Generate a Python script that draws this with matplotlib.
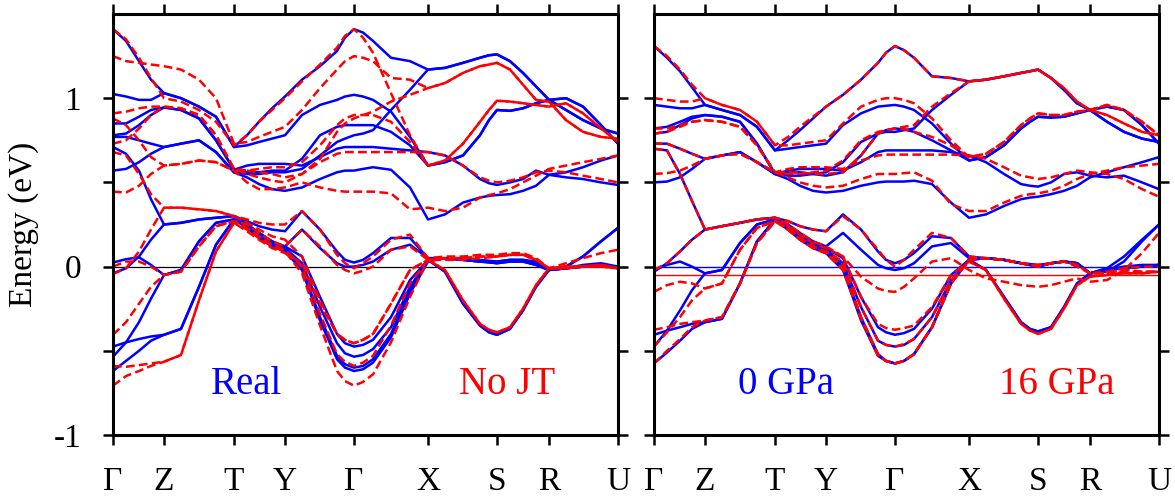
import numpy as np
import matplotlib
matplotlib.use("Agg")
import matplotlib.pyplot as plt

plt.rcParams['font.family'] = 'serif'
plt.rcParams['font.serif'] = ['Liberation Serif', 'DejaVu Serif']

# k-path (same sampling for every band), high-symmetry labels
kpts = [0, 13, 26, 38, 51, 68, 86, 103, 121, 134, 146, 159, 172, 189, 207, 224, 241,
        260, 278, 297, 315, 332, 350, 367, 384, 397, 410, 423, 436, 453, 470, 488, 505]
# a few extra samples around the Gamma extrema and the S dip
kpts_extra = [232, 250, 376]
ktick_pos = [0, 51, 121, 172, 241, 315, 384, 436, 505]
ktick_lab = ['Γ', 'Z', 'T', 'Y', 'Γ', 'X', 'S', 'R', 'U']

# --- left panel : Real (blue) ---
real_bands = [
    [1.41, 1.34, 1.22, 1.11, 1.03, 1.00, 0.95, 0.89, 0.71, 0.78, 0.86, 0.94, 1.01, 1.11, 1.19, 1.28, 1.41,
     1.34, 1.24, 1.22, 1.17, 1.18, 1.21, 1.24, 1.26, 1.22, 1.15, 1.07, 0.99, 0.93, 0.87, 0.82, 0.79],
    [1.025, 1.01, 0.99, 0.99, 1.03, 1.00, 0.95, 0.89, 0.71, 0.72, 0.74, 0.76, 0.78, 0.90, 0.96, 0.99, 1.02,
     0.99, 0.92, 0.77, 0.60, 0.62, 0.66, 0.78, 0.93, 0.925, 0.94, 0.97, 0.99, 1.00, 0.95, 0.84, 0.73],
    [0.85, 0.85, 0.89, 0.93, 0.945, 0.93, 0.88, 0.75, 0.575, 0.60, 0.61, 0.61, 0.61, 0.60, 0.65, 0.70, 0.71,
     0.71, 0.70, 0.69, 0.68, 0.66, 0.60, 0.52, 0.485, 0.50, 0.52, 0.57, 0.545, 0.53, 0.52, 0.50, 0.485],
    [0.78, 0.79, 0.84, 0.90, 0.945, 0.93, 0.88, 0.75, 0.575, 0.56, 0.56, 0.57, 0.57, 0.64, 0.78, 0.83, 0.84,
     0.84, 0.80, 0.72, 0.60, 0.62, 0.66, 0.78, 0.93, 0.925, 0.94, 0.97, 0.99, 1.00, 0.95, 0.84, 0.73],
    [0.77, 0.77, 0.75, 0.73, 0.71, 0.73, 0.75, 0.68, 0.56, 0.55, 0.55, 0.56, 0.56, 0.58, 0.66, 0.74, 0.78,
     0.81, 0.93, 1.05, 1.17, 1.18, 1.21, 1.24, 1.26, 1.22, 1.15, 1.07, 0.99, 0.93, 0.87, 0.82, 0.79],
    [0.57, 0.58, 0.62, 0.67, 0.71, 0.73, 0.75, 0.68, 0.56, 0.53, 0.49, 0.46, 0.45, 0.47, 0.52, 0.56, 0.57,
     0.59, 0.575, 0.47, 0.28, 0.31, 0.38, 0.41, 0.425, 0.43, 0.45, 0.48, 0.545, 0.56, 0.59, 0.63, 0.66],
    [0.71, 0.67, 0.57, 0.40, 0.25, 0.26, 0.28, 0.29, 0.30, 0.27, 0.24, 0.22, 0.21, 0.33, 0.22, 0.09, 0.024,
     0.08, 0.17, 0.17, 0.05, 0.05, 0.04, 0.03, 0.02, 0.03, 0.03, 0.01, -0.02, 0.0, 0.06, 0.15, 0.23],
    [-0.04, -0.01, 0.06, 0.16, 0.25, 0.26, 0.28, 0.29, 0.30, 0.25, 0.20, 0.15, 0.12, 0.22, 0.11, 0.02, 0.0,
     0.03, 0.10, 0.13, 0.05, 0.05, 0.04, 0.03, 0.03, 0.04, 0.04, 0.03, -0.02, -0.01, 0.01, 0.02, 0.0],
    [-0.475, -0.45, -0.43, -0.415, -0.405, -0.37, -0.12, 0.13, 0.28, 0.24, 0.19, 0.14, 0.12, 0.06, -0.18, -0.40, -0.475,
     -0.435, -0.30, -0.08, 0.04, -0.03, -0.22, -0.35, -0.405, -0.37, -0.26, -0.12, -0.02, -0.01, 0.0, 0.0, 0.0],
    [-0.535, -0.45, -0.33, -0.19, -0.05, -0.02, 0.15, 0.26, 0.28, 0.25, 0.20, 0.15, 0.11, 0.02, -0.24, -0.455, -0.535,
     -0.49, -0.36, -0.12, 0.04, -0.03, -0.22, -0.35, -0.405, -0.37, -0.26, -0.12, -0.02, -0.01, 0.0, 0.0, 0.0],
    [-0.62, -0.56, -0.50, -0.44, -0.405, -0.37, -0.12, 0.13, 0.28, 0.23, 0.17, 0.12, 0.09, -0.02, -0.32, -0.55, -0.62,
     -0.57, -0.42, -0.16, 0.03, 0.05, 0.04, 0.03, 0.02, 0.03, 0.03, 0.01, -0.02, -0.01, 0.0, 0.0, 0.0],
    [0.024, 0.044, 0.055, 0.01, -0.05, -0.02, 0.15, 0.26, 0.28, 0.24, 0.18, 0.13, 0.10, -0.01, -0.30, -0.53, -0.60,
     -0.55, -0.40, -0.14, 0.04, 0.05, 0.05, 0.04, 0.03, 0.04, 0.04, 0.02, -0.02, 0.0, 0.06, 0.15, 0.23],
]
real_extra = [
    [1.36, 1.39, 1.255], [1.01, 1.01, 0.87], [0.71, 0.71, 0.495], [0.84, 0.84, 0.87],
    [0.76, 0.79, 1.255], [0.57, 0.58, 0.42], [0.04, 0.04, 0.025], [0.0, 0.01, 0.03],
    [-0.455, -0.465, -0.39], [-0.515, -0.525, -0.39], [-0.60, -0.61, 0.025], [-0.58, -0.59, 0.035],
]

# --- left panel : No JT (red dashed) ---
nojt_bands = [
    [1.41, 1.35, 1.24, 1.12, 1.00, 0.98, 0.93, 0.86, 0.72, 0.78, 0.86, 0.93, 1.00, 1.10, 1.20, 1.30, 1.41,
     1.27, 1.03, 0.78, 0.60, 0.63, 0.73, 0.86, 0.985, 0.98, 0.97, 0.96, 0.95, 0.97, 0.91, 0.82, 0.74],
    [1.25, 1.22, 1.21, 1.20, 1.19, 1.17, 1.11, 1.00, 0.73, 0.74, 0.77, 0.80, 0.83, 0.93, 1.06, 1.17, 1.25,
     1.22, 1.12, 1.11, 1.06, 1.09, 1.15, 1.19, 1.21, 1.17, 1.08, 0.99, 0.98, 0.87, 0.80, 0.77, 0.76],
    [0.91, 0.92, 0.94, 0.95, 0.95, 0.94, 0.90, 0.78, 0.58, 0.57, 0.58, 0.59, 0.59, 0.62, 0.72, 0.84, 0.90,
     0.90, 0.86, 0.74, 0.60, 0.63, 0.73, 0.86, 0.985, 0.98, 0.97, 0.96, 0.95, 0.97, 0.91, 0.82, 0.74],
    [0.88, 0.84, 0.75, 0.65, 0.60, 0.61, 0.63, 0.62, 0.57, 0.57, 0.56, 0.55, 0.53, 0.55, 0.64, 0.80, 0.88,
     0.92, 0.98, 1.02, 1.06, 1.09, 1.15, 1.19, 1.21, 1.17, 1.08, 0.99, 0.98, 0.87, 0.80, 0.77, 0.76],
    [0.73, 0.75, 0.82, 0.90, 0.95, 0.94, 0.90, 0.78, 0.58, 0.55, 0.53, 0.51, 0.50, 0.55, 0.62, 0.67, 0.68,
     0.68, 0.68, 0.68, 0.68, 0.66, 0.60, 0.53, 0.50, 0.51, 0.53, 0.56, 0.57, 0.56, 0.54, 0.52, 0.50],
    [0.68, 0.66, 0.55, 0.43, 0.35, 0.35, 0.34, 0.33, 0.30, 0.28, 0.26, 0.25, 0.25, 0.33, 0.22, 0.07, -0.01,
     0.06, 0.16, 0.19, 0.05, 0.06, 0.06, 0.07, 0.07, 0.08, 0.08, 0.05, -0.01, 0.02, 0.05, 0.08, 0.10],
    [0.445, 0.44, 0.48, 0.55, 0.60, 0.61, 0.63, 0.62, 0.57, 0.50, 0.46, 0.46, 0.47, 0.50, 0.47, 0.45, 0.445,
     0.445, 0.435, 0.34, 0.35, 0.33, 0.35, 0.41, 0.435, 0.46, 0.50, 0.54, 0.58, 0.60, 0.62, 0.64, 0.66],
    [0.0, 0.03, 0.03, 0.0, -0.05, -0.03, 0.12, 0.24, 0.27, 0.25, 0.20, 0.15, 0.12, 0.22, 0.12, 0.01, -0.04,
     0.0, 0.10, 0.12, 0.04, 0.04, 0.04, 0.05, 0.06, 0.07, 0.07, 0.04, -0.01, 0.0, 0.0, 0.01, -0.01],
    [-0.044, -0.01, 0.09, 0.22, 0.35, 0.35, 0.34, 0.33, 0.30, 0.26, 0.22, 0.18, 0.16, 0.06, -0.20, -0.40, -0.455,
     -0.40, -0.22, -0.02, 0.04, -0.02, -0.20, -0.34, -0.39, -0.36, -0.25, -0.11, -0.01, -0.01, 0.0, 0.0, -0.01],
    [-0.405, -0.33, -0.22, -0.12, -0.05, -0.03, 0.12, 0.24, 0.27, 0.23, 0.18, 0.13, 0.10, 0.0, -0.28, -0.52, -0.59,
     -0.53, -0.35, -0.10, 0.04, -0.02, -0.20, -0.34, -0.39, -0.36, -0.25, -0.11, -0.01, -0.01, 0.0, 0.0, -0.01],
    [-0.59, -0.595, -0.585, -0.575, -0.565, -0.525, -0.20, 0.09, 0.26, 0.22, 0.17, 0.12, 0.09, -0.04, -0.35, -0.62, -0.707,
     -0.64, -0.45, -0.18, 0.04, 0.05, 0.05, 0.06, 0.06, 0.07, 0.07, 0.04, -0.01, 0.0, 0.0, 0.01, -0.01],
    [-0.707, -0.65, -0.62, -0.59, -0.565, -0.525, -0.20, 0.09, 0.26, 0.21, 0.16, 0.11, 0.08, 0.02, -0.22, -0.40, -0.455,
     -0.40, -0.22, -0.02, 0.04, 0.05, 0.05, 0.06, 0.06, 0.07, 0.07, 0.04, -0.01, 0.0, 0.0, 0.01, -0.01],
]
nojt_extra = [
    [1.37, 1.36, 0.93], [1.22, 1.24, 1.20], [0.88, 0.90, 0.93], [0.85, 0.90, 1.20],
    [0.68, 0.68, 0.51], [0.02, 0.02, 0.07], [0.445, 0.445, 0.425], [-0.02, -0.025, 0.055],
    [-0.435, -0.435, -0.375], [-0.565, -0.57, -0.375], [-0.68, -0.685, 0.06], [-0.435, -0.435, 0.06],
]

# --- right panel : 0 GPa (blue) ---
gpa0_bands = [
    [1.31, 1.24, 1.16, 1.065, 0.96, 0.93, 0.90, 0.83, 0.69, 0.75, 0.81, 0.88, 0.95, 1.02, 1.11, 1.21, 1.31,
     1.24, 1.13, 1.12, 1.10, 1.11, 1.13, 1.15, 1.17, 1.12, 1.05, 0.97, 0.93, 0.86, 0.80, 0.76, 0.74],
    [0.96, 0.95, 0.94, 0.94, 0.96, 0.93, 0.90, 0.83, 0.69, 0.70, 0.71, 0.72, 0.73, 0.84, 0.91, 0.95, 0.96,
     0.93, 0.85, 0.73, 0.63, 0.65, 0.72, 0.82, 0.89, 0.885, 0.89, 0.91, 0.93, 0.95, 0.93, 0.84, 0.73],
    [0.82, 0.83, 0.86, 0.89, 0.90, 0.89, 0.86, 0.73, 0.55, 0.57, 0.58, 0.58, 0.58, 0.57, 0.62, 0.68, 0.69,
     0.69, 0.69, 0.68, 0.66, 0.62, 0.55, 0.49, 0.475, 0.50, 0.55, 0.56, 0.54, 0.53, 0.54, 0.50, 0.46],
    [0.79, 0.80, 0.84, 0.88, 0.90, 0.89, 0.86, 0.73, 0.55, 0.54, 0.54, 0.55, 0.56, 0.62, 0.74, 0.79, 0.80,
     0.82, 0.93, 1.02, 1.10, 1.11, 1.13, 1.15, 1.17, 1.12, 1.05, 0.97, 0.93, 0.86, 0.80, 0.76, 0.74],
    [0.73, 0.73, 0.70, 0.67, 0.64, 0.66, 0.68, 0.62, 0.55, 0.56, 0.56, 0.55, 0.54, 0.56, 0.66, 0.79, 0.82,
     0.80, 0.75, 0.69, 0.63, 0.65, 0.72, 0.82, 0.89, 0.885, 0.89, 0.91, 0.93, 0.95, 0.93, 0.84, 0.73],
    [0.50, 0.505, 0.53, 0.58, 0.64, 0.66, 0.68, 0.62, 0.55, 0.52, 0.48, 0.45, 0.44, 0.45, 0.48, 0.50, 0.505,
     0.51, 0.49, 0.38, 0.29, 0.31, 0.36, 0.40, 0.415, 0.43, 0.45, 0.48, 0.53, 0.56, 0.59, 0.62, 0.65],
    [0.70, 0.69, 0.55, 0.39, 0.22, 0.24, 0.26, 0.28, 0.29, 0.27, 0.24, 0.22, 0.21, 0.31, 0.22, 0.09, 0.02,
     0.08, 0.18, 0.17, 0.06, 0.05, 0.04, 0.02, 0.01, 0.02, 0.03, 0.02, -0.04, -0.02, 0.0, 0.01, 0.01],
    [-0.03, 0.02, 0.09, 0.16, 0.22, 0.24, 0.26, 0.28, 0.29, 0.25, 0.20, 0.15, 0.12, 0.20, 0.10, 0.01, -0.02,
     0.02, 0.12, 0.14, 0.05, 0.05, 0.04, 0.02, 0.0, 0.02, 0.03, 0.02, -0.04, -0.03, 0.03, 0.15, 0.25],
    [-0.02, 0.01, 0.03, 0.0, -0.04, -0.02, 0.14, 0.25, 0.28, 0.24, 0.19, 0.14, 0.11, 0.05, -0.18, -0.36, -0.405,
     -0.37, -0.25, -0.05, 0.04, -0.02, -0.18, -0.33, -0.385, -0.36, -0.24, -0.10, -0.04, -0.01, -0.01, 0.0, 0.0],
    [-0.475, -0.38, -0.26, -0.14, -0.04, -0.02, 0.14, 0.25, 0.28, 0.23, 0.18, 0.13, 0.10, 0.02, -0.24, -0.44, -0.475,
     -0.43, -0.30, -0.08, 0.04, -0.02, -0.18, -0.33, -0.385, -0.36, -0.24, -0.10, -0.04, -0.01, 0.06, 0.16, 0.25],
    [-0.405, -0.38, -0.36, -0.34, -0.33, -0.31, -0.10, 0.15, 0.28, 0.22, 0.17, 0.12, 0.09, 0.0, -0.30, -0.52, -0.575,
     -0.52, -0.36, -0.10, 0.04, 0.05, 0.04, 0.02, 0.0, 0.02, 0.03, 0.02, -0.04, -0.02, -0.01, 0.0, 0.01],
    [-0.575, -0.51, -0.44, -0.37, -0.33, -0.31, -0.10, 0.15, 0.28, 0.22, 0.16, 0.11, 0.08, -0.02, -0.32, -0.53, -0.575,
     -0.52, -0.36, -0.10, 0.04, 0.05, 0.04, 0.02, 0.0, 0.02, 0.03, 0.02, -0.04, -0.02, -0.01, 0.0, 0.01],
]
gpa0_extra = [
    [1.27, 1.285, 1.16], [0.955, 0.95, 0.86], [0.69, 0.69, 0.48], [0.80, 0.81, 1.16],
    [0.81, 0.815, 0.86], [0.505, 0.505, 0.41], [0.04, 0.04, 0.015], [-0.01, -0.01, 0.01],
    [-0.39, -0.395, -0.37], [-0.465, -0.465, -0.37], [-0.56, -0.56, 0.01], [-0.56, -0.56, 0.01],
]

# --- right panel : 16 GPa (red dashed) ---
gpa16_bands = [
    [1.31, 1.25, 1.17, 1.08, 1.00, 0.96, 0.93, 0.86, 0.72, 0.77, 0.83, 0.89, 0.95, 1.02, 1.11, 1.21, 1.31,
     1.24, 1.13, 1.12, 1.10, 1.11, 1.13, 1.15, 1.17, 1.12, 1.06, 0.98, 0.93, 0.90, 0.85, 0.80, 0.78],
    [1.00, 0.99, 0.98, 0.98, 1.00, 0.96, 0.93, 0.86, 0.72, 0.72, 0.73, 0.74, 0.75, 0.85, 0.95, 0.99, 1.00,
     0.97, 0.88, 0.75, 0.65, 0.67, 0.74, 0.84, 0.91, 0.90, 0.90, 0.92, 0.93, 0.96, 0.93, 0.86, 0.78],
    [0.82, 0.82, 0.84, 0.86, 0.87, 0.86, 0.83, 0.72, 0.56, 0.58, 0.59, 0.59, 0.59, 0.58, 0.63, 0.66, 0.665,
     0.665, 0.665, 0.665, 0.66, 0.64, 0.59, 0.54, 0.52, 0.53, 0.55, 0.57, 0.56, 0.55, 0.52, 0.46, 0.415],
    [0.79, 0.80, 0.83, 0.86, 0.87, 0.86, 0.83, 0.72, 0.56, 0.55, 0.55, 0.56, 0.57, 0.63, 0.75, 0.80, 0.82,
     0.84, 0.95, 1.03, 1.10, 1.11, 1.13, 1.15, 1.17, 1.12, 1.06, 0.98, 0.93, 0.90, 0.85, 0.80, 0.78],
    [0.73, 0.73, 0.70, 0.67, 0.64, 0.66, 0.67, 0.62, 0.56, 0.56, 0.56, 0.55, 0.55, 0.56, 0.66, 0.79, 0.82,
     0.80, 0.77, 0.72, 0.65, 0.67, 0.74, 0.84, 0.91, 0.90, 0.90, 0.92, 0.93, 0.96, 0.93, 0.86, 0.78],
    [0.55, 0.555, 0.57, 0.60, 0.64, 0.66, 0.67, 0.62, 0.56, 0.53, 0.50, 0.48, 0.47, 0.48, 0.52, 0.55, 0.55,
     0.56, 0.51, 0.37, 0.33, 0.33, 0.38, 0.42, 0.435, 0.45, 0.48, 0.52, 0.55, 0.57, 0.59, 0.60, 0.61],
    [0.70, 0.69, 0.55, 0.39, 0.22, 0.24, 0.26, 0.28, 0.29, 0.27, 0.24, 0.22, 0.21, 0.30, 0.22, 0.10, 0.0,
     0.10, 0.20, 0.17, 0.06, 0.05, 0.04, 0.02, 0.01, 0.02, 0.03, 0.0, -0.04, -0.04, -0.02, -0.03, -0.03],
    [-0.02, 0.02, 0.09, 0.16, 0.22, 0.24, 0.26, 0.28, 0.29, 0.25, 0.20, 0.15, 0.12, 0.06, -0.06, -0.13, -0.15,
     -0.07, 0.03, 0.05, -0.02, -0.07, -0.09, -0.11, -0.12, -0.11, -0.09, -0.07, -0.09, -0.08, -0.02, 0.08, 0.20],
    [-0.15, -0.11, -0.09, -0.10, -0.13, -0.10, 0.10, 0.23, 0.27, 0.24, 0.19, 0.14, 0.11, 0.06, -0.18, -0.34, -0.375,
     -0.35, -0.24, -0.05, 0.03, -0.02, -0.19, -0.34, -0.40, -0.37, -0.25, -0.11, -0.06, -0.05, -0.04, -0.04, -0.03],
    [-0.375, -0.36, -0.34, -0.33, -0.32, -0.30, -0.10, 0.14, 0.27, 0.23, 0.17, 0.12, 0.09, 0.03, -0.24, -0.44, -0.475,
     -0.43, -0.30, -0.08, 0.03, -0.02, -0.19, -0.34, -0.40, -0.37, -0.25, -0.11, -0.06, -0.05, -0.04, -0.04, -0.03],
    [-0.475, -0.39, -0.30, -0.20, -0.13, -0.10, 0.10, 0.23, 0.27, 0.22, 0.16, 0.11, 0.08, 0.0, -0.30, -0.52, -0.575,
     -0.52, -0.36, -0.10, 0.04, 0.05, 0.04, 0.02, 0.0, 0.02, 0.03, 0.01, -0.04, -0.04, -0.03, -0.03, -0.03],
    [-0.575, -0.50, -0.43, -0.36, -0.32, -0.30, -0.10, 0.14, 0.27, 0.22, 0.16, 0.11, 0.08, -0.02, -0.31, -0.53, -0.575,
     -0.52, -0.36, -0.10, 0.04, 0.05, 0.04, 0.02, 0.0, 0.02, 0.03, 0.01, -0.04, -0.03, -0.01, 0.0, 0.0],
]
gpa16_extra = [
    [1.27, 1.285, 1.16], [1.00, 0.99, 0.88], [0.665, 0.665, 0.53], [0.81, 0.83, 1.16],
    [0.81, 0.815, 0.88], [0.55, 0.555, 0.43], [0.04, 0.04, 0.015], [-0.145, -0.12, -0.115],
    [-0.365, -0.365, -0.38], [-0.465, -0.46, -0.38], [-0.56, -0.56, 0.01], [-0.56, -0.56, 0.01],
]

fermi_0gpa = 0.0
fermi_16gpa = -0.05

BLUE = '#0000ff'
RED = '#ff0000'

fig = plt.figure(figsize=(11.75, 4.99), dpi=100)
ax1 = fig.add_axes([113 / 1175, 64 / 499, 505 / 1175, 421 / 499])
ax2 = fig.add_axes([654 / 1175, 64 / 499, 505 / 1175, 421 / 499])

k_all = np.array(kpts + kpts_extra)
order = np.argsort(k_all, kind='stable')


def draw_panel(ax, blue, blue_x, red, red_x):
    for b, e in zip(blue, blue_x):
        ax.plot(k_all[order], np.array(b + e)[order], color=BLUE, lw=1.8,
                solid_joinstyle='round')
    for b, e in zip(red, red_x):
        ax.plot(k_all[order], np.array(b + e)[order], color=RED, lw=1.8,
                dashes=(3.5, 1.7))
    ax.set_xlim(0, 505)
    ax.set_ylim(-1, 1.5)
    ax.set_xticks(ktick_pos)
    ax.set_xticklabels(ktick_lab, fontsize=24)
    ax.set_yticks([-1, -0.5, 0, 0.5, 1])
    ax.tick_params(direction='out', length=7, width=1.8, top=True, right=True,
                   labeltop=False, labelright=False, pad=16)
    for s in ax.spines.values():
        s.set_linewidth(2.2)


draw_panel(ax1, real_bands, real_extra, nojt_bands, nojt_extra)
ax1.axhline(0, color='black', lw=0.9, zorder=0)
ax1.set_yticklabels(['-1', '', '0', '', '1'], fontsize=24)
ax1.set_ylabel('Energy (eV)', fontsize=24, labelpad=10)
ax1.text(134, -0.7, 'Real', color=BLUE, fontsize=28, ha='center', va='center')
ax1.text(394, -0.7, 'No JT', color=RED, fontsize=28, ha='center', va='center')

draw_panel(ax2, gpa0_bands, gpa0_extra, gpa16_bands, gpa16_extra)
ax2.axhline(fermi_0gpa, color=BLUE, lw=1.0, zorder=0)
ax2.axhline(fermi_16gpa, color=RED, lw=1.0, zorder=0)
ax2.set_yticklabels([])
ax2.text(132, -0.7, '0 GPa', color=BLUE, fontsize=28, ha='center', va='center')
ax2.text(403, -0.7, '16 GPa', color=RED, fontsize=28, ha='center', va='center')

fig.savefig('out.png', dpi=100)
